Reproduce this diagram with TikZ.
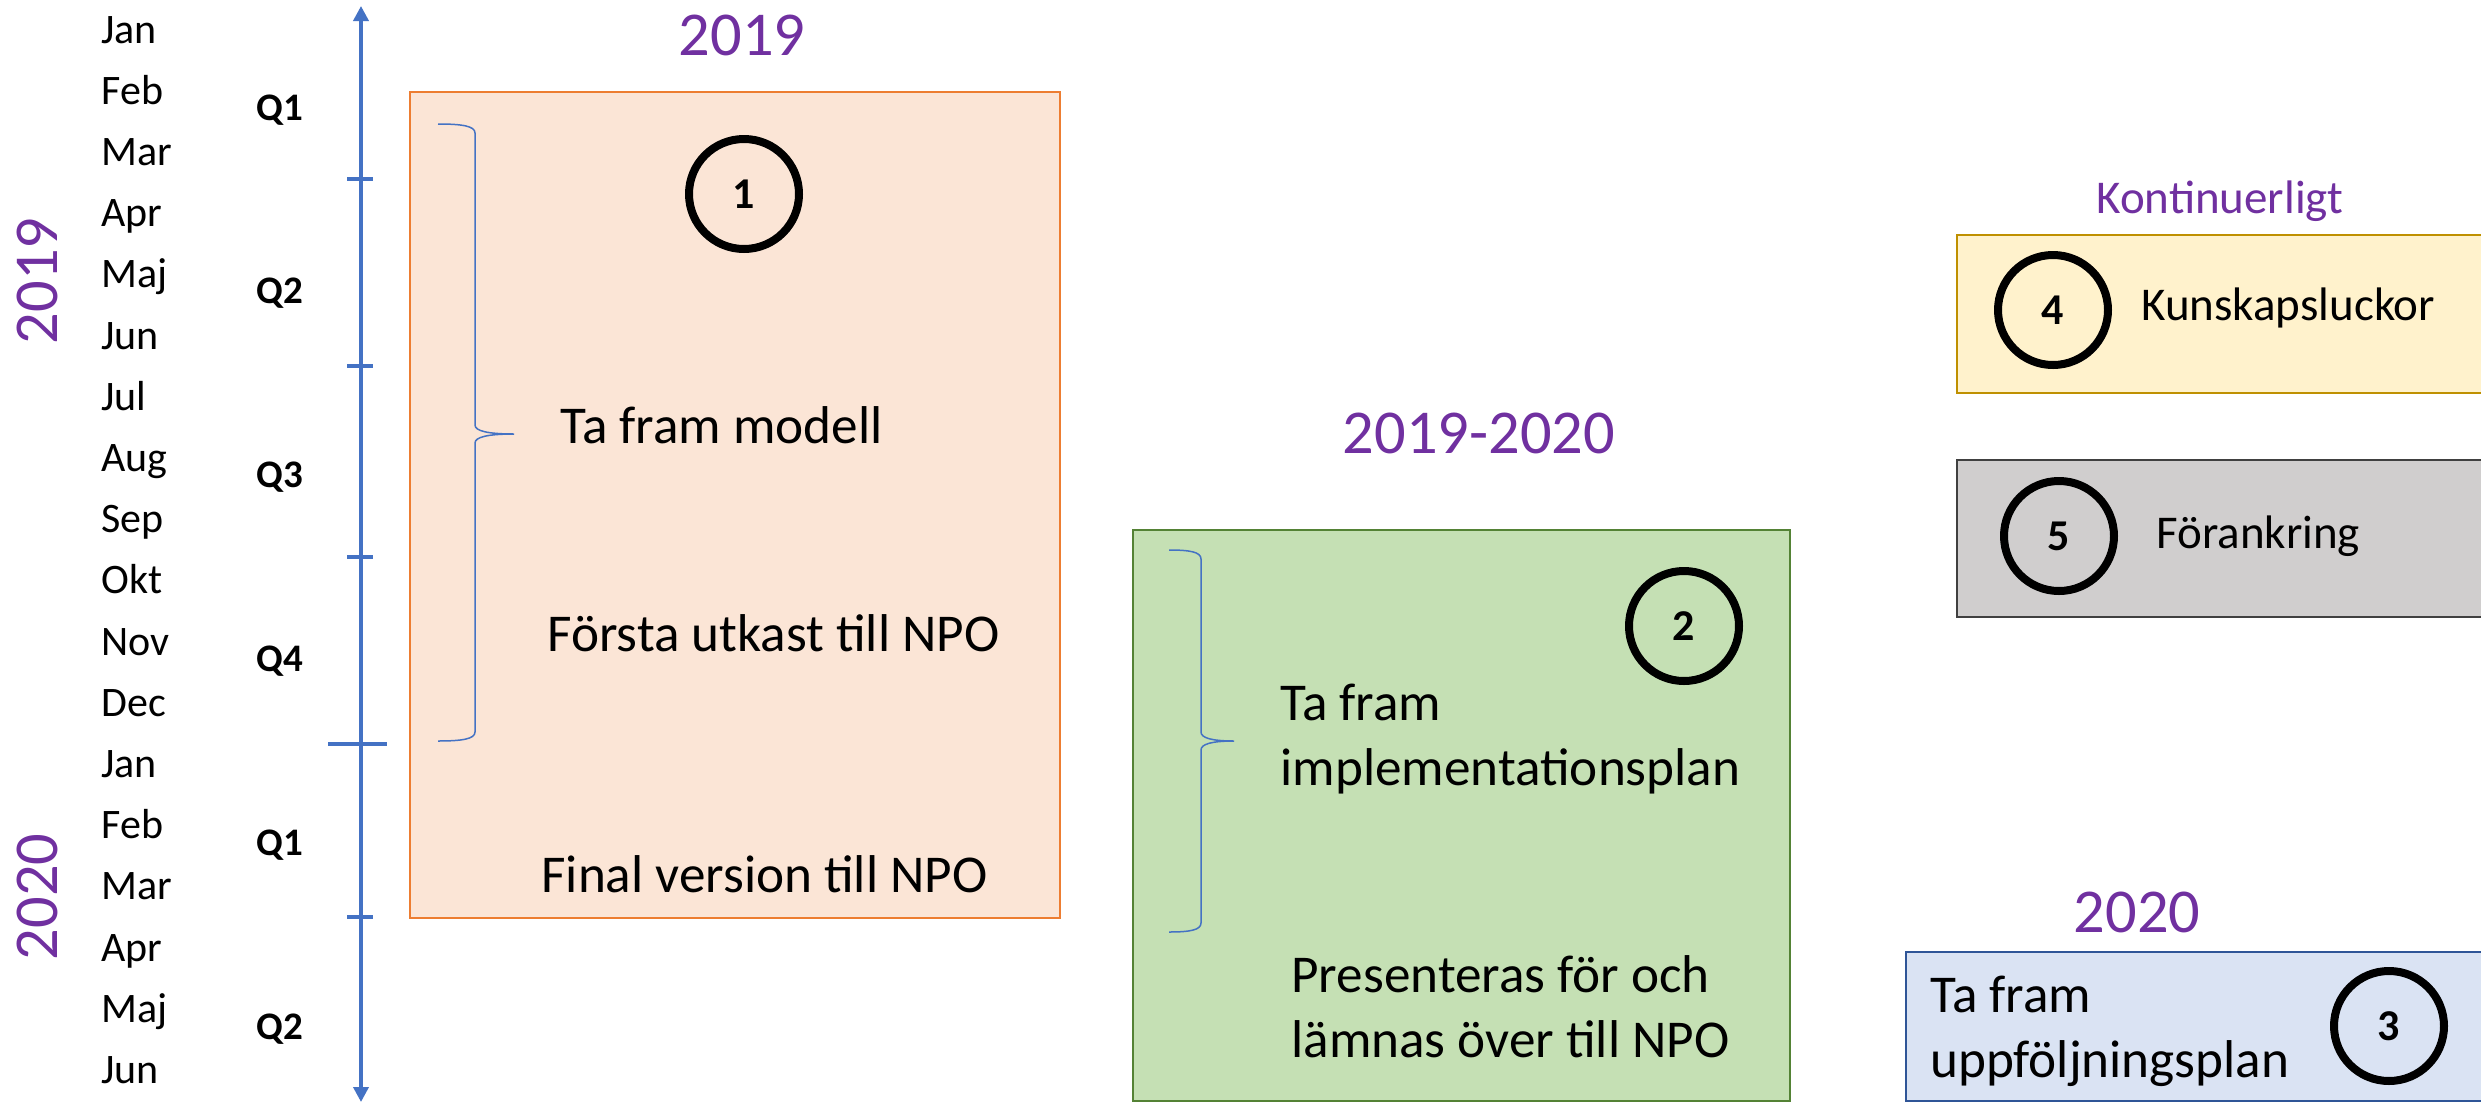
\documentclass[tikz,border=0pt]{standalone}
\usepackage{fontspec}
\setmainfont{Carlito}
\usetikzlibrary{arrows.meta}
\definecolor{axisblue}{HTML}{4472C4}
\definecolor{yearpurple}{HTML}{7030A0}
\definecolor{orangefill}{HTML}{FBE5D6}
\definecolor{orangeline}{HTML}{ED7D31}
\definecolor{greenfill}{HTML}{C5E0B4}
\definecolor{greenline}{HTML}{548235}
\definecolor{yellowfill}{HTML}{FFF2CC}
\definecolor{yellowline}{HTML}{BF9000}
\definecolor{grayfill}{HTML}{D0CECE}
\definecolor{grayline}{HTML}{404040}
\definecolor{bluefill}{HTML}{DAE3F3}
\definecolor{blueline}{HTML}{2F5597}
\newcommand{\twolines}[2]{\begin{tabular}[t]{@{}l@{}}#1\\#2\end{tabular}}
\begin{document}
\begin{tikzpicture}[x=0.5pt,y=-0.5pt,
  month/.style={anchor=base west, inner sep=0pt, font=\fontsize{21}{25}\selectfont},
  quarter/.style={anchor=base, inner sep=0pt, font=\fontsize{19.5}{23}\selectfont\bfseries},
  yearlbl/.style={inner sep=0pt, text=yearpurple, font=\fontsize{31.2}{37}\selectfont},
  bodytext/.style={anchor=base west, inner sep=0pt, font=\fontsize{26.6}{32.5}\selectfont},
  smalltext/.style={anchor=base west, inner sep=0pt, font=\fontsize{23.5}{28}\selectfont},
  numcircle/.style={circle, draw=black, line width=4pt, minimum size=55pt, inner sep=0pt,
                    font=\fontsize{22}{26}\selectfont\bfseries},
  panel/.style={line width=1.2pt},
  axisline/.style={draw=axisblue, line width=1.8pt},
  bracket/.style={draw=axisblue, line width=0.75pt}]
\useasboundingbox (0,0) rectangle (2481,1104);
\begin{scope}
\clip (0,0) rectangle (2481,1104);
\fill[white] (0,0) rectangle (2481,1104);

% phase panels
\draw[panel, fill=orangefill, draw=orangeline] (410,92) rectangle (1060,918);
\draw[panel, fill=greenfill, draw=greenline] (1133,530) rectangle (1790,1101);
\draw[panel, fill=yellowfill, draw=yellowline] (1957,235) rectangle (2495,393);
\draw[panel, fill=grayfill, draw=grayline] (1957,460) rectangle (2495,617);
\draw[panel, fill=bluefill, draw=blueline] (1906,952) rectangle (2495,1101);

% time axis with quarter ticks
\coordinate (axtop) at (361,6);
\coordinate (axbot) at (361,1102);
\draw[axisline, {Triangle[width=7.5pt,length=7.5pt]}-{Triangle[width=7.5pt,length=7.5pt]}] (axtop) -- (axbot);
\foreach \ty in {179,366,557,917}
  \draw[axisline] (347,\ty) -- (373,\ty);
\draw[axisline] (328,744) -- (387,744);

% months
\foreach \mname [count=\i from 0] in {Jan,Feb,Mar,Apr,Maj,Jun,Jul,Aug,Sep,Okt,Nov,Dec,Jan,Feb,Mar,Apr,Maj,Jun}
  \node[month] (m\i) at (101,{43+61.2*\i}) {\mname};

% quarters
\foreach \qname [count=\i from 0] in {Q1,Q2,Q3,Q4,Q1,Q2}
  \node[quarter] (q\i) at (280,{120+183.8*\i}) {\qname};

% years along the axis
\node[yearlbl, rotate=90, anchor=base] (side2019) at (57,281) {2019};
\node[yearlbl, rotate=90, anchor=base] (side2020) at (57,897) {2020};

% phase headings
\node[yearlbl, anchor=base] (head2019) at (742,55) {2019};
\node[yearlbl, anchor=base] (head1920) at (1479,453) {2019-2020};
\node[yearlbl, anchor=base] (head2020) at (2137,932) {2020};
\node[smalltext, text=yearpurple] (headkont) at (2096,213) {Kontinuerligt};

% braces
\draw[bracket] (438,124) .. controls (462,124) and (475,126) .. (475,133)
  -- (475,425) .. controls (475,431) and (488,434) .. (514,434)
  .. controls (488,434) and (475,437) .. (475,443)
  -- (475,732) .. controls (475,739) and (462,741) .. (438,741);
\draw[bracket] (1169,550) .. controls (1190,550) and (1201,552) .. (1201,559)
  -- (1201,732) .. controls (1201,738) and (1212,741) .. (1234,741)
  .. controls (1212,741) and (1201,744) .. (1201,750)
  -- (1201,923) .. controls (1201,930) and (1190,932) .. (1169,932);

% texts
\node[bodytext] (modell) at (560,443) {Ta fram modell};
\node[bodytext] (utkast) at (547,651) {Första utkast till NPO};
\node[bodytext] (final) at (541,892) {Final version till NPO};
\node[bodytext] (impl) at (1280,720) {\twolines{Ta fram}{implementationsplan}};
\node[bodytext] (present) at (1291,992) {\twolines{Presenteras för och}{lämnas över till NPO}};
\node[bodytext] (uppf) at (1930,1012) {\twolines{Ta fram}{uppföljningsplan}};
\node[smalltext] (kunskap) at (2141,320) {Kunskapsluckor};
\node[smalltext] (forank) at (2156,548) {Förankring};

% numbered circles
\node[numcircle] (c1) at (744,194) {1};
\node[numcircle] (c2) at (1684,626) {2};
\node[numcircle] (c3) at (2389,1026) {3};
\node[numcircle] (c4) at (2053,310) {4};
\node[numcircle] (c5) at (2059,536) {5};
\end{scope}
\end{tikzpicture}
\end{document}
